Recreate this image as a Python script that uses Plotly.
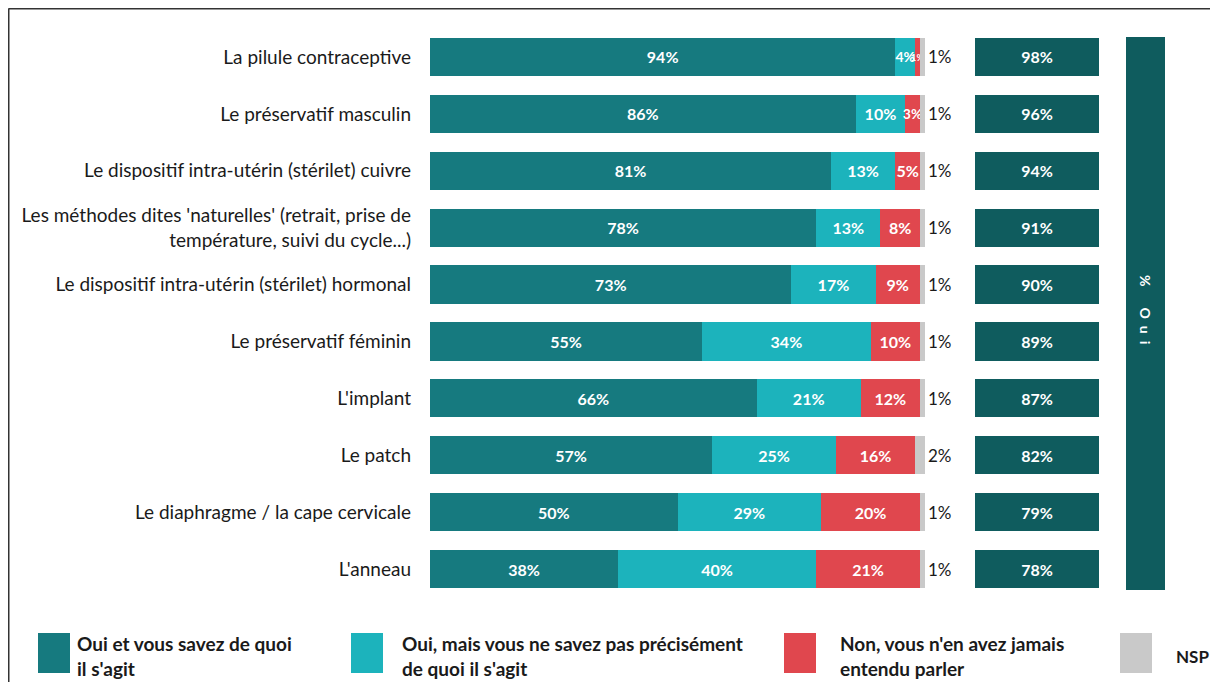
import plotly.graph_objects as go

categories = [
    "La pilule contraceptive",
    "Le préservatif masculin",
    "Le dispositif intra-utérin (stérilet) cuivre",
    "Les méthodes dites 'naturelles' (retrait, prise de<br>température, suivi du cycle...)",
    "Le dispositif intra-utérin (stérilet) hormonal",
    "Le préservatif féminin",
    "L'implant",
    "Le patch",
    "Le diaphragme / la cape cervicale",
    "L'anneau",
]
oui_savez = [94, 86, 81, 78, 73, 55, 66, 57, 50, 38]
oui_pas_precis = [4, 10, 13, 13, 17, 34, 21, 25, 29, 40]
non_jamais = [1, 3, 5, 8, 9, 10, 12, 16, 20, 21]
nsp = [1, 1, 1, 1, 1, 1, 1, 2, 1, 1]
total_oui = [98, 96, 94, 91, 90, 89, 87, 82, 79, 78]

series_names = [
    "Oui et vous savez de quoi<br>il s'agit",
    "Oui, mais vous ne savez pas précisément<br>de quoi il s'agit",
    "Non, vous n'en avez jamais<br>entendu parler",
    "NSP",
]
colors = ["#167a7f", "#1cb3bc", "#e0474e", "#c9c9c9"]
total_color = "#0f5c5e"
FONT = "Lato"

# page has an 8px body margin; map reference pixel coords to figure paper coords
OFF = 8
FW, FH = 1218 - OFF, 682 - OFF
def px(x):
    return (x - OFF) / FW
def py(y):
    return 1 - (y - OFF) / FH

fig = go.Figure()
series = [oui_savez, oui_pas_precis, non_jamais]
for i, vals in enumerate(series):
    sizes = [16 if v >= 5 else (14 if v >= 3 else (13 if i == 1 else 10)) for v in vals]
    fig.add_trace(go.Bar(
        y=categories, x=vals, orientation="h", name=series_names[i],
        marker=dict(color=colors[i], line=dict(width=0)),
        text=[f"{v}%" for v in vals],
        textposition="inside",
        insidetextanchor="middle",
        textangle=0,
        constraintext="none",
        textfont=dict(family=FONT, size=sizes, color="white", weight="bold"),
        showlegend=False,
        xaxis="x", yaxis="y",
    ))

fig.add_trace(go.Bar(
    y=categories, x=nsp, orientation="h", name=series_names[3],
    marker=dict(color=colors[3], line=dict(width=0)),
    text=[f"{v}%" for v in nsp],
    textposition="outside", textangle=0, cliponaxis=False,
    textfont=dict(family=FONT, size=17, color="#1a1a1a"),
    showlegend=False, xaxis="x", yaxis="y",
))

fig.add_trace(go.Bar(
    y=categories, x=[1] * len(total_oui), orientation="h",
    marker=dict(color=total_color, line=dict(width=0)),
    text=[f"{v}%" for v in total_oui],
    textposition="inside", insidetextanchor="middle", textangle=0,
    textfont=dict(family=FONT, size=16, color="white", weight="bold"),
    showlegend=False, xaxis="x2", yaxis="y",
))

shapes = [
    # frame
    dict(type="line", xref="paper", yref="paper", x0=0.5 / FW, x1=1.0, y0=1 - 0.5 / FH, y1=1 - 0.5 / FH,
         line=dict(color="#333333", width=2)),
    dict(type="line", xref="paper", yref="paper", x0=0.5 / FW, x1=0.5 / FW, y0=1 - 0.5 / FH, y1=0,
         line=dict(color="#333333", width=2)),
    # % Oui band
    dict(type="rect", xref="paper", yref="paper", x0=px(1126), x1=px(1165),
         y0=py(590), y1=py(37), fillcolor=total_color, line=dict(width=0), layer="below"),
]
annotations = [
    dict(xref="paper", yref="paper", x=px(1145.5), y=py(309),
         text="%\u2003\u2003O\u2002u\u2002i",
         textangle=90, showarrow=False, xshift=10,
         font=dict(family=FONT, size=14, color="white", weight="bold")),
]

legend_swatch_x = [38, 351, 784, 1120]
legend_text_x = [75, 400, 838, 1174]
for i in range(4):
    x0 = legend_swatch_x[i]
    shapes.append(dict(type="rect", xref="paper", yref="paper",
                       x0=px(x0), x1=px(x0 + 32), y0=py(673), y1=py(633),
                       fillcolor=colors[i], line=dict(width=0)))
    annotations.append(dict(xref="paper", yref="paper", x=px(legend_text_x[i]), y=py(656),
                            xanchor="left", yanchor="middle", align="left",
                            text=series_names[i], showarrow=False,
                            font=dict(family=FONT, size=19 if i < 3 else 17,
                                      color="#1a1a1a", weight="bold")))

fig.update_layout(
    width=FW, height=FH,
    margin=dict(l=0, r=0, t=0, b=0),
    paper_bgcolor="white", plot_bgcolor="white",
    barmode="stack", bargap=0.33,
    xaxis=dict(domain=[px(430), px(925)], range=[0, 100], visible=False, fixedrange=True),
    xaxis2=dict(domain=[px(975), px(1099)], range=[0, 1], visible=False, anchor="y"),
    yaxis=dict(domain=[py(597.5), py(28.5)], range=[9.5, -0.5],
               categoryorder="array", categoryarray=categories,
               showgrid=False, zeroline=False, showline=False, ticks="",
               ticklabelstandoff=18,
               tickfont=dict(family=FONT, size=19, color="#1a1a1a")),
    shapes=shapes, annotations=annotations,
)

fig.write_html("out.html")
